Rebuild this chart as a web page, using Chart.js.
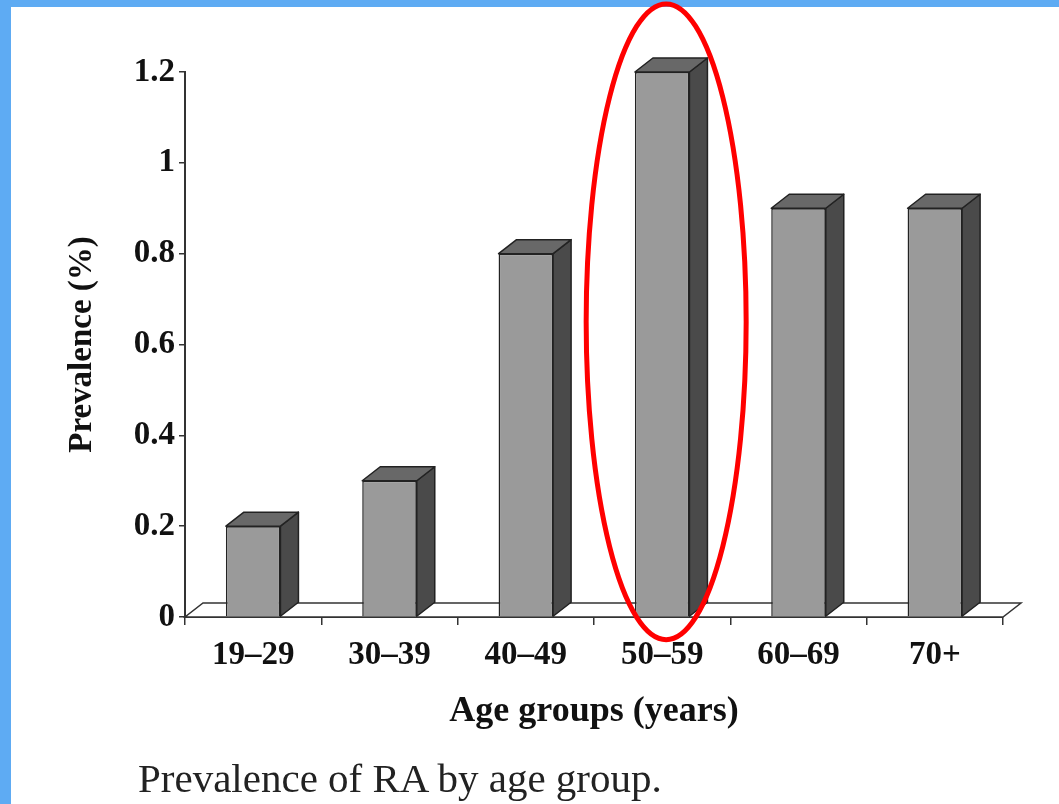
<!DOCTYPE html>
<html>
<head>
<meta charset="utf-8">
<script src="https://cdn.jsdelivr.net/npm/chart.js@4.4.1/dist/chart.umd.min.js"></script>
<style>
  html, body { margin: 0; padding: 0; }
  body { width: 1059px; height: 804px; background: #5eabf3; position: relative; overflow: hidden; }
  .sheet { position: absolute; left: 11px; top: 7px; right: 0; bottom: 0; background: #fff; }
  .wrap { position: absolute; left: 0; top: 0; width: 1059px; height: 804px; }
  .caption { position: absolute; left: 138px; top: 754px; font-family: "Liberation Serif", serif; font-size: 41px; color: #222; white-space: nowrap; }
</style>
</head>
<body>
<div class="sheet"></div>
<div class="wrap"><canvas id="myChart" width="1059" height="804"></canvas></div>
<div class="caption">Prevalence of RA by age group.</div>
<script>
const ageGroups = ["19–29", "30–39", "40–49", "50–59", "60–69", "70+"];
const prevalence = [0.2, 0.3, 0.8, 1.2, 0.9, 0.9];
const yTicks = [0, 0.2, 0.4, 0.6, 0.8, 1, 1.2];
// circled bar and the value span the ring covers
const highlightIndex = 3;
const ringRange = [-0.05, 1.35];

const depth = { dx: 18, dy: 14 };
const serif = "'Liberation Serif', 'Times New Roman', serif";

// floor under the bars + side/top faces for the 3D look
const bar3d = {
    id: "bar3d",
    beforeDatasetsDraw(chart) {
        const { ctx, scales: { x, y } } = chart;
        const y0 = y.getPixelForValue(0);
        ctx.save();
        ctx.beginPath();
        ctx.moveTo(x.left, y0);
        ctx.lineTo(x.right, y0);
        ctx.lineTo(x.right + depth.dx, y0 - depth.dy);
        ctx.lineTo(x.left + depth.dx, y0 - depth.dy);
        ctx.closePath();
        ctx.fillStyle = "#fff";
        ctx.fill();
        ctx.strokeStyle = "#333";
        ctx.lineWidth = 1.5;
        ctx.stroke();
        ctx.restore();
    },
    afterDatasetsDraw(chart) {
        const ctx = chart.ctx;
        ctx.save();
        ctx.strokeStyle = "#222";
        ctx.lineWidth = 1.5;
        ctx.lineJoin = "round";
        chart.getDatasetMeta(0).data.forEach(bar => {
            const { x, y, base, width } = bar.getProps(["x", "y", "base", "width"], true);
            const l = x - width / 2, r = x + width / 2;
            // side
            ctx.beginPath();
            ctx.moveTo(r, y);
            ctx.lineTo(r + depth.dx, y - depth.dy);
            ctx.lineTo(r + depth.dx, base - depth.dy);
            ctx.lineTo(r, base);
            ctx.closePath();
            ctx.fillStyle = "#4a4a4a";
            ctx.fill();
            ctx.stroke();
            // top
            ctx.beginPath();
            ctx.moveTo(l, y);
            ctx.lineTo(l + depth.dx, y - depth.dy);
            ctx.lineTo(r + depth.dx, y - depth.dy);
            ctx.lineTo(r, y);
            ctx.closePath();
            ctx.fillStyle = "#686868";
            ctx.fill();
            ctx.stroke();
        });
        ctx.restore();
    }
};

// red ring round the 50–59 bar
const ring = {
    id: "ring",
    afterDraw(chart) {
        const { ctx, scales: { x, y } } = chart;
        const cx = x.getPixelForValue(highlightIndex) + 4;
        const top = y.getPixelForValue(ringRange[1]);
        const bottom = y.getPixelForValue(ringRange[0]);
        ctx.save();
        ctx.beginPath();
        ctx.ellipse(cx, (top + bottom) / 2, 80, (bottom - top) / 2, 0, 0, Math.PI * 2);
        ctx.strokeStyle = "#ff0000";
        ctx.lineWidth = 5;
        ctx.stroke();
        ctx.restore();
    }
};

new Chart("myChart", {
    type: "bar",
    data: {
        labels: ageGroups,
        datasets: [{
            data: prevalence,
            backgroundColor: "#9a9a9a",
            borderColor: "#222",
            borderWidth: 1.5,
            barPercentage: 0.4,
            categoryPercentage: 1
        }]
    },
    options: {
        responsive: false,
        animation: false,
        layout: { padding: { top: 72, right: 56, left: 0, bottom: 0 } },
        plugins: {
            legend: { display: false },
            tooltip: { enabled: false }
        },
        scales: {
            x: {
                afterFit: s => { s.height = 187; },
                grid: { drawOnChartArea: false, tickLength: 8, color: "#333", lineWidth: 1.5 },
                border: { color: "#333", width: 2 },
                ticks: { color: "#111", padding: 11, font: { family: serif, size: 33, weight: "bold" } },
                title: {
                    display: true,
                    text: "Age groups (years)",
                    color: "#111",
                    font: { family: serif, size: 36, weight: "bold" },
                    padding: { top: 0, bottom: 71 }
                }
            },
            y: {
                min: 0,
                max: 1.2,
                afterFit: s => { s.width = 185; },
                afterBuildTicks: s => { s.ticks = yTicks.map(v => ({ value: v })); },
                grid: { drawOnChartArea: false, tickLength: 6, color: "#333", lineWidth: 1.5 },
                border: { color: "#333", width: 2 },
                ticks: {
                    color: "#111",
                    padding: 4,
                    font: { family: serif, size: 33, weight: "bold" },
                    callback: v => String(Math.round(v * 10) / 10)
                },
                title: {
                    display: true,
                    text: "Prevalence (%)",
                    color: "#111",
                    font: { family: serif, size: 33, weight: "bold" },
                    padding: { top: 63, bottom: 0 }
                }
            }
        }
    },
    plugins: [bar3d, ring]
});
</script>
</body>
</html>
